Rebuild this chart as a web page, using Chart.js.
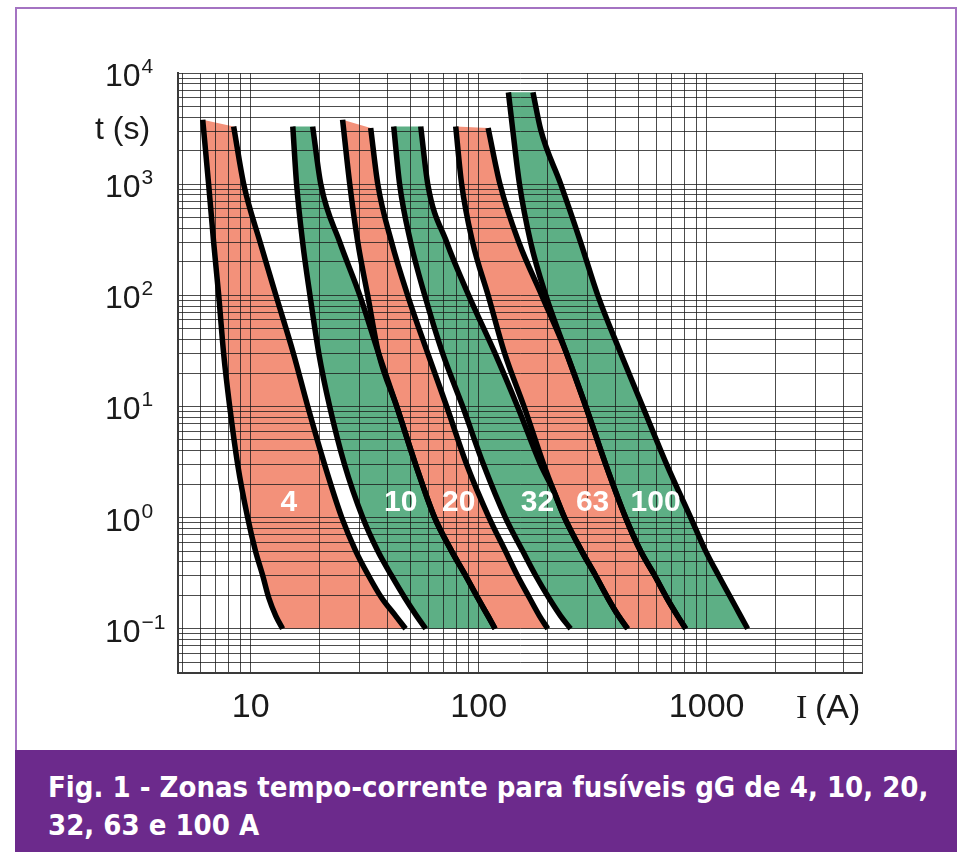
<!DOCTYPE html>
<html>
<head>
<meta charset="utf-8">
<script src="https://cdn.jsdelivr.net/npm/chart.js@4.4.1/dist/chart.umd.min.js"></script>
<style>
  body { margin: 0; background: #fff; width: 961px; height: 852px; overflow: hidden; position: relative; }
  #frame { position: absolute; left: 15px; top: 7px; width: 942px; height: 860px; border: 2px solid #a473c2; box-sizing: border-box; }
  #fuseChart { position: absolute; left: 0; top: 0; }
  #caption {
    position: absolute; left: 15px; top: 750px; width: 942px; height: 102px;
    background: #6c2a8c; color: #fff; box-sizing: border-box; padding: 18px 0 0 33px;
    font-family: "Liberation Sans Narrow", "DejaVu Sans Condensed", sans-serif;
    font-weight: bold; font-size: 29px; line-height: 38px;
  }
</style>
</head>
<body>
<div id="frame"></div>
<canvas id="fuseChart" width="961" height="750"></canvas>
<div id="caption">Fig. 1 - Zonas tempo-corrente para fusíveis gG de 4, 10, 20,<br>32, 63 e 100 A</div>
<script>
// axis ranges
const xMin = 4.8, xMax = 4800;
const yMin = 0.04, yMax = 10000;

// tick labels
const xTickLabels = [10, 100, 1000];
const yTickExponents = [-1, 0, 1, 2, 3, 4];

// fuse ratings, zone colours and where the rating text sits
const ratings = ['4', '10', '20', '32', '63', '100'];
const zoneColors = ['#f3917a', '#5daf85', '#f3917a', '#5daf85', '#f3917a', '#5daf85'];
const labelCurrent = [14.7, 45.5, 81.7, 181, 316, 597];
const labelTime = 1.36;

// [current (A), time (s)] - left (min) and right (max) limit of each zone
const fuse4Min = [[6.16, 3800], [6.54, 1000], [6.88, 300], [7.24, 100], [7.61, 30], [8.09, 10], [8.77, 3], [9.7, 1], [10.5, 0.5], [11.3, 0.3], [12.0, 0.19], [12.9, 0.13], [13.8, 0.1]];
const fuse4Max = [[8.42, 3300], [9.32, 1000], [11.0, 300], [12.9, 100], [15.4, 30], [17.8, 10], [21.1, 3], [25.1, 1], [28.9, 0.5], [32.9, 0.3], [37.5, 0.19], [43.3, 0.13], [47.8, 0.1]];
const fuse10Min = [[15.3, 3300], [15.9, 1000], [16.9, 300], [18.2, 100], [19.9, 30], [22.2, 10], [25.8, 3], [31.0, 1], [36.1, 0.5], [41.5, 0.3], [47.4, 0.19], [53.5, 0.13], [58.6, 0.1]];
const fuse10Max = [[18.7, 3300], [20.3, 1000], [24.6, 300], [30.1, 100], [36.4, 30], [43.7, 10], [52.9, 3], [64.1, 1], [76.1, 0.5], [87.7, 0.3], [99, 0.19], [110, 0.13], [118, 0.1]];
const fuse20Min = [[25.3, 3800], [27.2, 1000], [29.5, 300], [32.6, 100], [36.4, 30], [43.7, 10], [52.9, 3], [64.1, 1], [76.1, 0.5], [87.7, 0.3], [99, 0.19], [110, 0.13], [118, 0.1]];
const fuse20Max = [[33.6, 3200], [36.1, 1000], [41.5, 300], [48.8, 100], [59.8, 30], [72.4, 10], [88.6, 3], [111, 1], [131, 0.5], [148, 0.3], [167, 0.19], [185, 0.13], [201, 0.1]];
const fuse32Min = [[42.4, 3300], [45.0, 1000], [50.3, 300], [58.0, 100], [69.5, 30], [85.1, 10], [105, 3], [131, 1], [156, 0.5], [178, 0.3], [203, 0.19], [229, 0.13], [253, 0.1]];
const fuse32Max = [[55.7, 3300], [59.8, 1000], [72.4, 300], [90.4, 100], [118, 30], [148, 10], [187, 3], [213, 1.75], [238, 1], [283, 0.5], [326, 0.3], [368, 0.19], [411, 0.13], [450, 0.1]];
const fuse63Min = [[79.3, 3300], [84.2, 1000], [94.1, 300], [110, 100], [130, 30], [158, 10], [193, 3], [213, 1.75], [238, 1], [283, 0.5], [326, 0.3], [368, 0.19], [411, 0.13], [450, 0.1]];
const fuse63Max = [[110, 3200], [124, 1000], [150, 300], [189, 100], [243, 30], [295, 10], [361, 3], [441, 1], [513, 0.5], [592, 0.3], [668, 0.19], [746, 0.13], [809, 0.1]];
const fuse100Min = [[135, 6700], [141, 3100], [151, 1000], [169, 300], [197, 100], [243, 30], [295, 10], [361, 3], [441, 1], [513, 0.5], [592, 0.3], [668, 0.19], [746, 0.13], [809, 0.1]];
const fuse100Max = [[173, 6700], [187, 3100], [229, 1000], [280, 300], [333, 100], [420, 30], [524, 10], [668, 3], [851, 1], [990, 0.5], [1129, 0.3], [1275, 0.19], [1410, 0.13], [1512, 0.1]];

const zoneMin = [fuse4Min, fuse10Min, fuse20Min, fuse32Min, fuse63Min, fuse100Min];
const zoneMax = [fuse4Max, fuse10Max, fuse20Max, fuse32Max, fuse63Max, fuse100Max];

const toPoints = arr => arr.map(([x, y]) => ({ x, y }));

// 1..9 x 10^n grid values inside a range
function gridValues(min, max) {
    const vals = [];
    for (let e = Math.floor(Math.log10(min)); e <= Math.ceil(Math.log10(max)); e++) {
        for (let m = 1; m <= 9; m++) {
            const v = Number((m * Math.pow(10, e)).toPrecision(6));
            if (v >= min && v <= max) vals.push(v);
        }
    }
    if (!vals.includes(max)) vals.push(max);
    return vals;
}

const datasets = [];
// filled zones: upper edge (top + max curve) filled down to lower edge (min curve + bottom)
ratings.forEach((r, i) => {
    const lo = toPoints(zoneMin[i]);
    const hi = toPoints(zoneMax[i]);
    datasets.push({ data: [lo[0], ...hi], fill: '+1', backgroundColor: zoneColors[i],
        borderColor: 'rgba(0,0,0,0)', borderWidth: 0, pointRadius: 0, order: 3,
        cubicInterpolationMode: 'default', tension: 0 });
    datasets.push({ data: [...lo, hi[hi.length - 1]], fill: false,
        borderColor: 'rgba(0,0,0,0)', borderWidth: 0, pointRadius: 0, order: 3,
        cubicInterpolationMode: 'default', tension: 0 });
});
// black limit curves
ratings.forEach((r, i) => {
    [zoneMin[i], zoneMax[i]].forEach(c => {
        datasets.push({ data: toPoints(c), fill: false, borderColor: '#000', borderWidth: 5.5,
            borderJoinStyle: 'round', pointRadius: 0, order: 1, cubicInterpolationMode: 'monotone' });
    });
});

const gridColor = 'rgba(25,25,25,0.78)';

const textPlugin = {
    id: 'fuseText',
    afterDraw(chart) {
        const { ctx, scales: { x, y } } = chart;
        ctx.save();
        ctx.fillStyle = '#1a1a1a';
        ctx.textAlign = 'left';
        ctx.textBaseline = 'alphabetic';
        // decade labels with raised exponent
        yTickExponents.forEach(e => {
            const py = y.getPixelForValue(Math.pow(10, e));
            ctx.font = '32px "Liberation Sans", Arial, sans-serif';
            ctx.fillText('10', 105, py + 13);
            const w = ctx.measureText('10').width;
            ctx.font = '21px "Liberation Sans", Arial, sans-serif';
            ctx.fillText(e < 0 ? '\u2212' + (-e) : String(e), 105 + w + 1, py);
        });
        // axis titles
        ctx.font = '32px "Liberation Sans", Arial, sans-serif';
        ctx.fillText('t (s)', 95, 139);
        ctx.font = '34px "Liberation Serif", serif';
        ctx.fillText('I', 796, 718);
        ctx.font = '34px "Liberation Sans", Arial, sans-serif';
        ctx.fillText('(A)', 815, 718);
        // fuse ratings inside the zones
        ctx.fillStyle = '#fff';
        ctx.textAlign = 'center';
        ctx.textBaseline = 'middle';
        ctx.font = 'bold 30px "Liberation Sans", Arial, sans-serif';
        ratings.forEach((r, i) => {
            ctx.fillText(r, x.getPixelForValue(labelCurrent[i]), y.getPixelForValue(labelTime));
        });
        ctx.restore();
    }
};

new Chart(document.getElementById('fuseChart').getContext('2d'), {
    type: 'line',
    data: { datasets },
    plugins: [textPlugin],
    options: {
        responsive: false,
        animation: false,
        events: [],
        layout: { padding: { left: 105, right: 99, top: 73, bottom: 17 } },
        plugins: {
            legend: { display: false },
            tooltip: { enabled: false },
            filler: { drawTime: 'beforeDraw' }
        },
        scales: {
            x: {
                type: 'logarithmic',
                min: xMin,
                max: xMax,
                afterBuildTicks: s => { s.ticks = gridValues(xMin, xMax).map(v => ({ value: v })); },
                afterFit: s => { s.height = 60; },
                ticks: {
                    autoSkip: false,
                    maxRotation: 0,
                    padding: 14,
                    color: '#1a1a1a',
                    font: { family: '"Liberation Sans", Arial, sans-serif', size: 34 },
                    callback: v => xTickLabels.includes(v) ? String(v) : ''
                },
                grid: { color: gridColor, lineWidth: 1, drawTicks: false },
                border: { color: '#3a3a3a', width: 2 }
            },
            y: {
                type: 'logarithmic',
                min: yMin,
                max: yMax,
                afterBuildTicks: s => { s.ticks = gridValues(yMin, yMax).map(v => ({ value: v })); },
                afterFit: s => { s.width = 73; },
                ticks: { display: false },
                grid: { color: gridColor, lineWidth: 1, drawTicks: false },
                border: { color: '#3a3a3a', width: 2 }
            }
        }
    }
});
</script>
</body>
</html>
